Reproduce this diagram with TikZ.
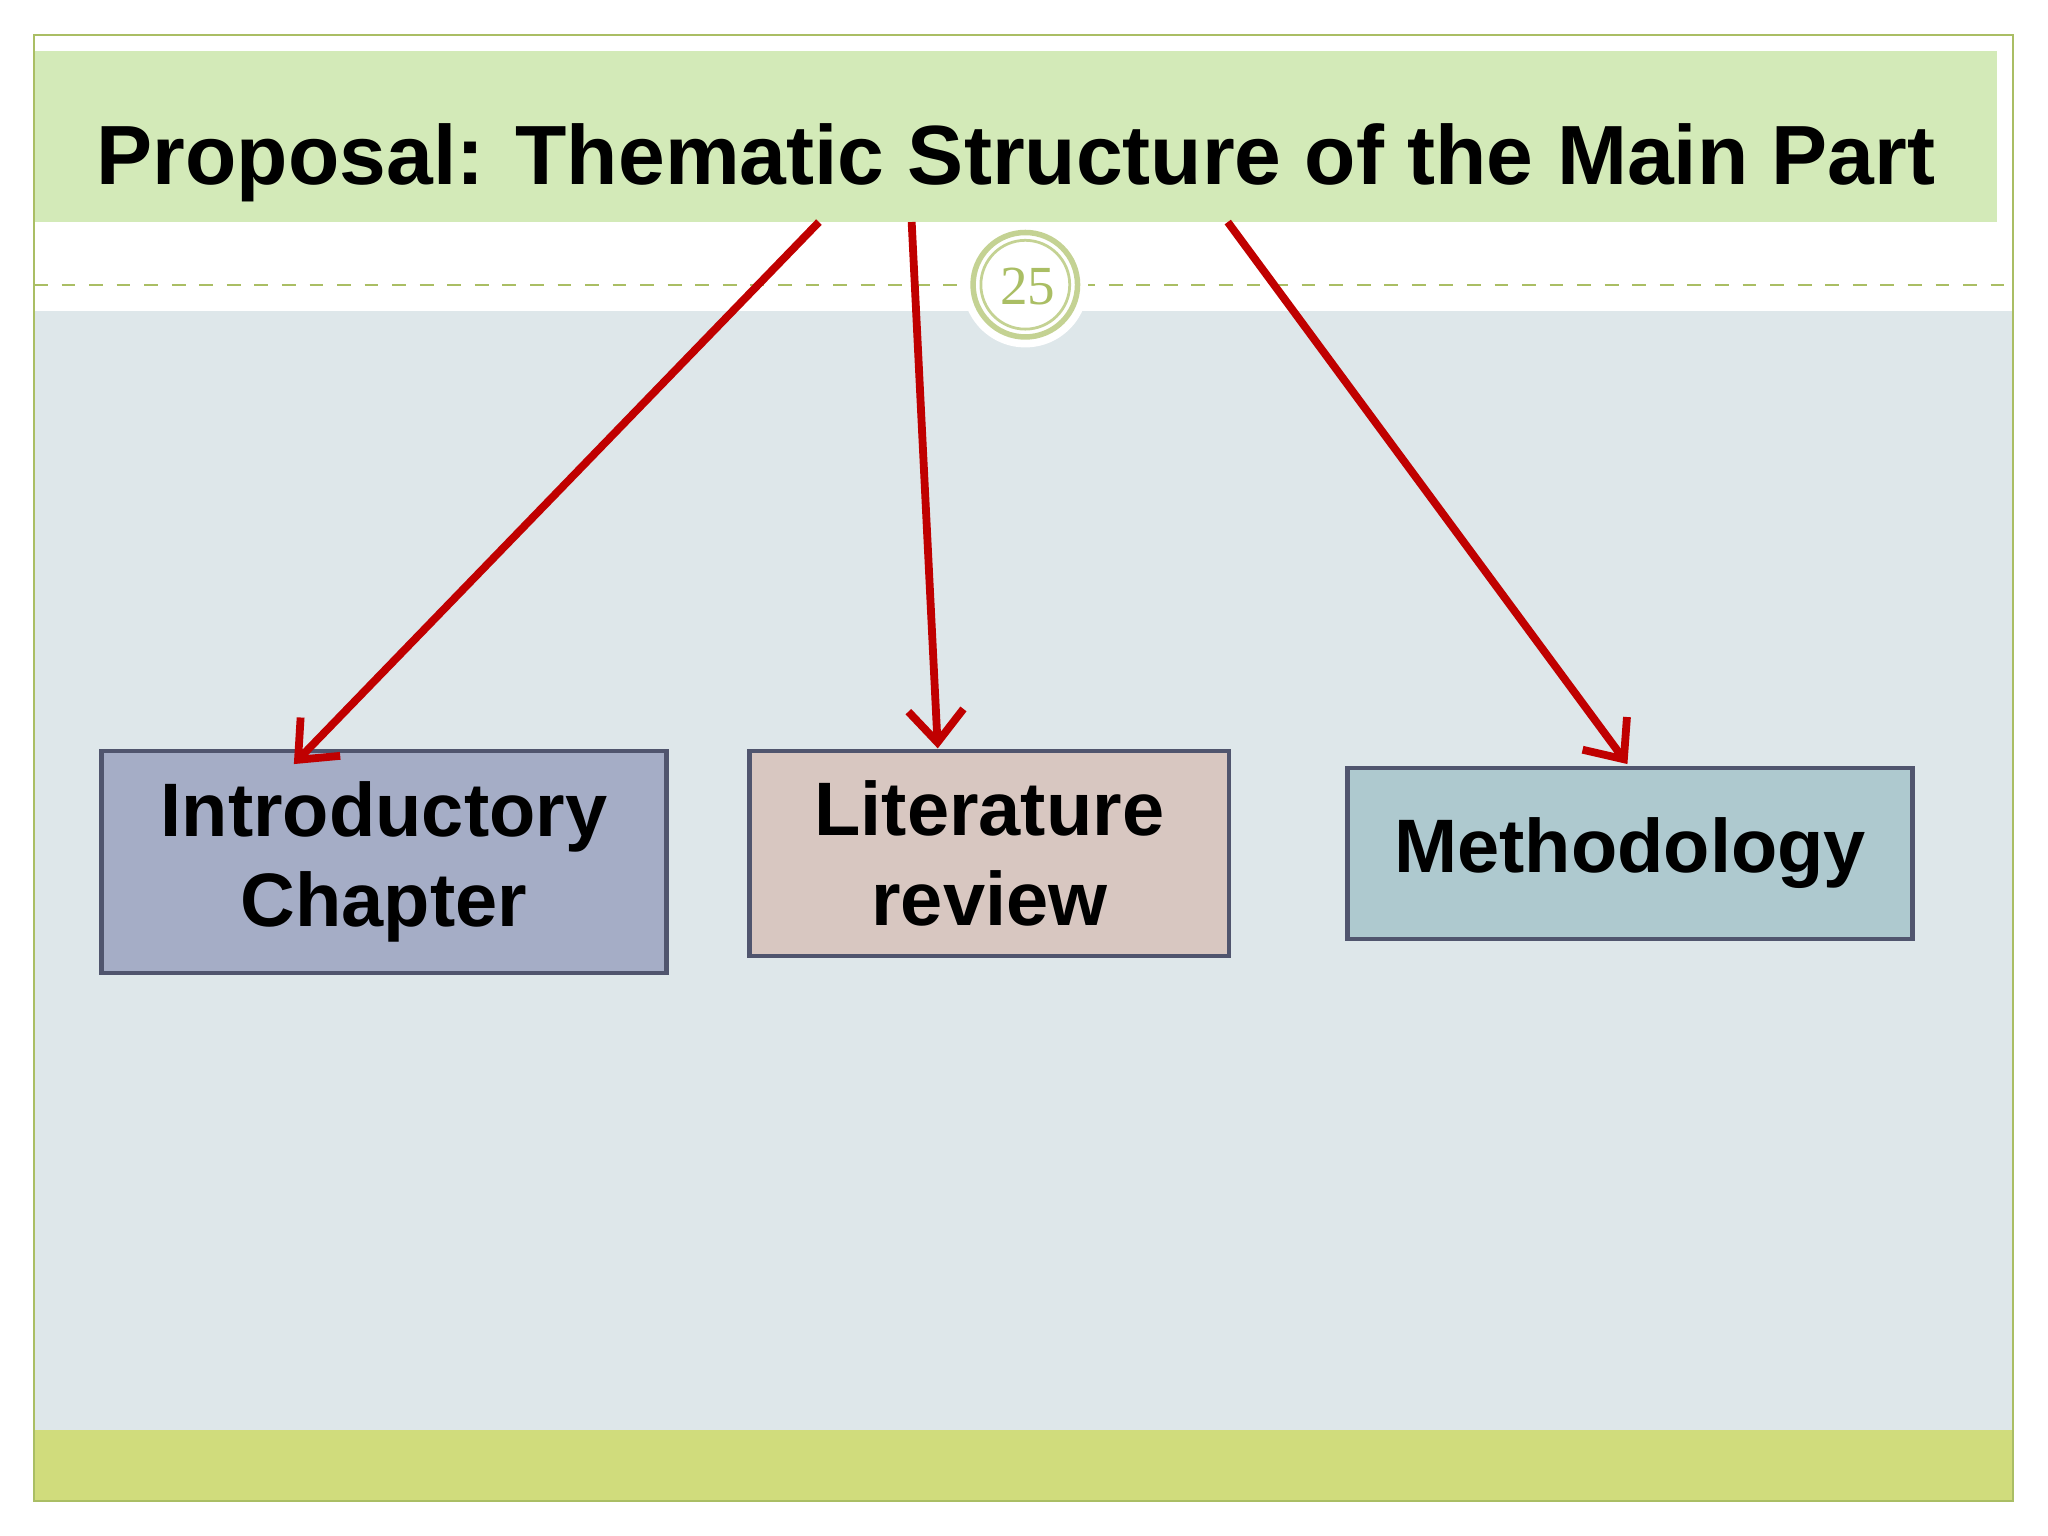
\documentclass[tikz,border=0pt]{standalone}
\usepackage{fontspec}
\setmainfont{Liberation Sans}
\usetikzlibrary{arrows.meta}
\definecolor{band}{RGB}{211,234,184}
\definecolor{body}{RGB}{222,231,234}
\definecolor{foot}{RGB}{208,220,124}
\definecolor{olive}{RGB}{170,190,100}
\definecolor{arr}{RGB}{192,0,0}
\definecolor{edge}{RGB}{80,85,110}
\definecolor{fintro}{RGB}{165,173,198}
\definecolor{flit}{RGB}{216,199,193}
\definecolor{fmeth}{RGB}{174,201,207}
\begin{document}
\begin{tikzpicture}[x=0.01cm,y=-0.01cm,
  box/.style={draw=edge,line width=1pt,font=\bfseries\fontsize{16.5}{19.5}\selectfont,align=center,inner sep=0pt},
  link/.style={draw=arr,line width=1.7pt,-{Straight Barb[length=7pt,width=12pt,line width=1.7pt]}}]
\useasboundingbox (0,0) rectangle (1568,1176);
\fill[white] (0,0) rectangle (1568,1176);
\fill[body] (26,238) rectangle (1541,1095);
\fill[foot] (26,1095) rectangle (1541,1149);
\fill[band] (26,39) rectangle (1529,170);
\draw[olive,line width=0.4pt] (26,27) rectangle (1541,1149);
\draw[olive,dashed,line width=0.5pt] (26,218) -- (1541,218);
\fill[white] (785,218) circle (48);
\draw[olive!70,line width=1.2pt] (785,218) circle (40);
\draw[olive!70,line width=0.6pt] (785,218) circle (34);
\node[font=\fontsize{12}{14}\selectfont\rmfamily,text=olive] (num) at (787,219) {\fontspec{Liberation Serif}25};
\node[font=\bfseries\fontsize{18.3}{22}\selectfont] (title) at (778,125) {Proposal: Thematic Structure of the Main Part};
\node[box,fill=fintro,minimum width=4.32cm,minimum height=1.70cm] (intro) at (294,660) {Introductory\\Chapter};
\node[box,fill=flit,minimum width=3.67cm,minimum height=1.57cm] (lit) at (757.5,653.5) {Literature\\review};
\node[box,fill=fmeth,minimum width=4.32cm,minimum height=1.31cm] (meth) at (1248,653.5) {Methodology};
\coordinate (s1) at (627,170); \coordinate (e1) at (225,585);
\coordinate (s2) at (698,170); \coordinate (e2) at (718,573);
\coordinate (s3) at (940,170); \coordinate (e3) at (1246,585);
\draw[link] (s1) -- (e1);
\draw[link] (s2) -- (e2);
\draw[link] (s3) -- (e3);
\end{tikzpicture}
\end{document}
